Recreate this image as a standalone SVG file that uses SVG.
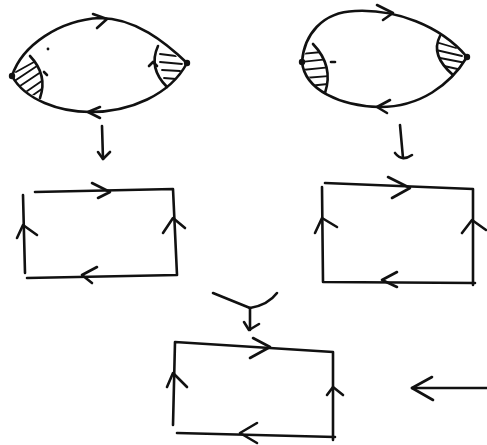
<svg xmlns="http://www.w3.org/2000/svg" width="487" height="445" viewBox="0 0 487 445">
<style>
.s{fill:none;stroke:#111;stroke-width:2.6;stroke-linecap:round;stroke-linejoin:round}
.h{fill:none;stroke:#111;stroke-width:1.8;stroke-linecap:round}
.d{fill:#111}
</style>
<defs>
<clipPath id="c1"><path d="M12,76 Q18,62 30,56 Q48,75 40,98 Q22,92 12,76 Z"/></clipPath>
<clipPath id="c2"><path d="M158,46 Q148,68 167,87 Q180,77 187,63 Q172,52 158,46 Z"/></clipPath>
<clipPath id="c3"><path d="M302,62 Q305,50 313,44 Q334,66 325,93 Q308,82 302,62 Z"/></clipPath>
<clipPath id="c4"><path d="M440,36 Q430,55 453,75 Q462,65 467,57 Q455,44 440,36 Z"/></clipPath>
</defs>
<rect width="487" height="445" fill="#fff"/>
<g id="eye1">
<path class="s" d="M12,76 C22,45 60,20 100,18 C135,18 165,42 187,63"/>
<path class="s" d="M12,76 C25,100 60,112 90,112 C130,112 170,95 187,63"/>
<path class="s" d="M93,14 L107,19 L97,28"/>
<path class="s" d="M100,107 L88,112 L100,118"/>
<path class="s" d="M30,56 Q48,75 40,98"/>
<path class="s" d="M158,46 Q148,68 167,87"/>
<path class="s" d="M44,72 L47,75"/>
<path class="s" d="M149,66 L153,62 L157,66"/>
<g clip-path="url(#c1)">
<path class="h" d="M10,84 L40,64 M14,90 L44,70 M20,96 L46,78 M26,100 L46,86 M16,72 L34,62"/>
</g>
<g clip-path="url(#c2)">
<path class="h" d="M160,54 L176,56 M160,62 L182,64 M162,70 L180,71 M164,78 L176,79"/>
</g>
<circle class="d" cx="12" cy="76" r="3.2"/>
<circle class="d" cx="187" cy="63" r="3.2"/>
<circle class="d" cx="48" cy="49" r="1.4"/>
</g>
<g id="eye2">
<path class="s" d="M302,62 C304,35 322,12 355,11 C395,9 440,25 467,57"/>
<path class="s" d="M302,62 C305,90 340,106 380,107 C420,107 450,85 467,57"/>
<path class="s" d="M377,5 L393,13 L383,20"/>
<path class="s" d="M390,100 L377,107 L387,113"/>
<path class="s" d="M313,44 Q334,66 325,93"/>
<path class="s" d="M440,36 Q430,55 453,75"/>
<path class="s" d="M331,62 L335,62"/>
<g clip-path="url(#c3)">
<path class="h" d="M300,54 L322,52 M300,62 L330,59 M302,70 L332,67 M304,78 L330,76 M308,86 L328,84"/>
</g>
<g clip-path="url(#c4)">
<path class="h" d="M436,42 L456,48 M436,50 L462,56 M440,58 L466,63 M444,66 L462,70"/>
</g>
<circle class="d" cx="302" cy="62" r="3.2"/>
<circle class="d" cx="467" cy="57" r="3.2"/>
</g>
<g id="rect1">
<path class="s" d="M35,192 L173,189 L177,275 L27,278"/>
<path class="s" d="M25,273 L23,195"/>
<path class="s" d="M92,183 L110,192 L98,198"/>
<path class="s" d="M163,233 L173,218 L185,228"/>
<path class="s" d="M17,238 L23,225 L37,235"/>
<path class="s" d="M97,267 L82,275 L92,283"/>
</g>
<g id="rect2">
<path class="s" d="M325,183 L473,189 L473,285"/>
<path class="s" d="M475,283 L323,282 L322,187"/>
<path class="s" d="M388,177 L410,188 L392,198"/>
<path class="s" d="M462,233 L472,220 L486,230"/>
<path class="s" d="M315,233 L322,218 L337,227"/>
<path class="s" d="M397,272 L382,280 L397,287"/>
</g>
<g id="rect3">
<path class="s" d="M173,425 L175,342 L333,352 L333,440"/>
<path class="s" d="M335,437 L177,433"/>
<path class="s" d="M253,338 L270,347 L250,358"/>
<path class="s" d="M167,387 L173,373 L187,387"/>
<path class="s" d="M327,395 L333,387 L343,395"/>
<path class="s" d="M257,423 L240,433 L257,443"/>
</g>
<g id="connectors">
<path class="s" d="M102,126 L103,159"/>
<path class="s" d="M98,152 L103,159 L110,152"/>
<path class="s" d="M400,125 L403,158"/>
<path class="s" d="M395,153 Q402,162 412,155"/>
<path class="s" d="M213,293 L250,308"/>
<path class="s" d="M277,293 Q268,305 250,308"/>
<path class="s" d="M250,308 L250,330"/>
<path class="s" d="M244,322 L249,330 L259,324"/>
<path class="s" d="M412,388 L487,388"/>
<path class="s" d="M432,377 L412,388 L433,400"/>
</g>
</svg>
